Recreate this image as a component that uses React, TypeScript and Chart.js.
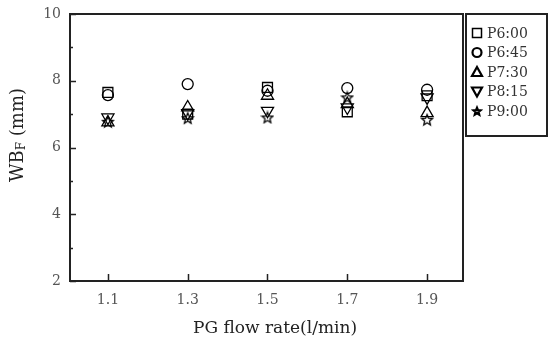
import React, { useEffect, useRef } from "react";
import { Chart, registerables } from "chart.js";

Chart.register(...registerables);

const flowRates = [1.1, 1.3, 1.5, 1.7, 1.9];
const xTickValues = [1.1, 1.3, 1.5, 1.7, 1.9];
const yTickValues = [2, 3, 4, 5, 6, 7, 8, 9, 10];
const seriesNames = ["P6:00", "P6:45", "P7:30", "P8:15", "P9:00"];
const p600 = [7.65, 7.0, 7.8, 7.07, 7.55];
const p645 = [7.57, 7.9, 7.7, 7.78, 7.73];
const p730 = [6.75, 7.2, 7.55, 7.3, 7.03];
const p815 = [6.9, 7.03, 7.1, 7.2, 7.5];
const p900 = [6.77, 6.88, 6.9, 7.5, 6.83];

const FONT = "'DejaVu Serif', 'Liberation Serif', serif";
const INK = "#222";

function makeStar(size: number, lw: number): HTMLCanvasElement {
  const c = document.createElement("canvas");
  c.width = size;
  c.height = size;
  const ctx = c.getContext("2d")!;
  const cx = size / 2, cy = size / 2 + 0.5;
  const R = size / 2 - lw, r = R * 0.45;
  ctx.beginPath();
  for (let i = 0; i < 10; i++) {
    const a = -Math.PI / 2 + (i * Math.PI) / 5;
    const rr = i % 2 === 0 ? R : r;
    const px = cx + rr * Math.cos(a), py = cy + rr * Math.sin(a);
    if (i === 0) ctx.moveTo(px, py); else ctx.lineTo(px, py);
  }
  ctx.closePath();
  ctx.strokeStyle = "#000";
  ctx.lineWidth = lw;
  ctx.stroke();
  return c;
}

export default function App() {
  const ref = useRef<HTMLCanvasElement | null>(null);

  useEffect(() => {
    document.body.style.margin = "0";
    const star = makeStar(14, 1.3);
    const legendStar = makeStar(12, 2.2);
    const mk = (data: number[]) => data.map((v, i) => ({ x: flowRates[i], y: v }));

    const styles: any[] = [
      { pointStyle: "rect", pointRadius: 7, pointRotation: 0 },
      { pointStyle: "circle", pointRadius: 5.5, pointRotation: 0 },
      { pointStyle: "triangle", pointRadius: 7, pointRotation: 0 },
      { pointStyle: "triangle", pointRadius: 7, pointRotation: 180 },
      { pointStyle: star, pointRadius: 7, pointRotation: 0 },
    ];
    const all = [p600, p645, p730, p815, p900];

    const framePlugin = {
      id: "frame",
      afterDraw(chart: any) {
        const ctx = chart.ctx;
        const { left, right, top, bottom } = chart.chartArea;
        const xs = chart.scales.x, ys = chart.scales.y;
        ctx.save();
        ctx.strokeStyle = INK;
        ctx.lineWidth = 2;
        ctx.strokeRect(left, top, right - left, bottom - top);
        ctx.lineWidth = 1.5;
        ctx.beginPath();
        xTickValues.forEach((v) => {
          const px = Math.round(xs.getPixelForValue(v)) + 0.5;
          ctx.moveTo(px, bottom);
          ctx.lineTo(px, bottom - 7);
        });
        yTickValues.forEach((v) => {
          const py = Math.round(ys.getPixelForValue(v)) + 0.5;
          const len = v % 2 === 0 ? 6 : 3;
          ctx.moveTo(left, py);
          ctx.lineTo(left + len, py);
        });
        ctx.stroke();

        // axis titles
        ctx.fillStyle = INK;
        ctx.font = `17px ${FONT}`;
        ctx.textAlign = "center";
        ctx.textBaseline = "middle";
        ctx.fillText("PG flow rate(l/min)", 275, 329);

        ctx.save();
        ctx.translate(18, 135);
        ctx.rotate(-Math.PI / 2);
        ctx.textAlign = "left";
        const p1 = "WB", p2 = "F", p3 = " (mm)";
        ctx.font = `18px ${FONT}`;
        const w1 = ctx.measureText(p1).width;
        const w3 = ctx.measureText(p3).width;
        ctx.font = `12px ${FONT}`;
        const w2 = ctx.measureText(p2).width;
        const total = w1 + w2 + w3;
        let x0 = -total / 2;
        ctx.font = `18px ${FONT}`;
        ctx.fillText(p1, x0, 0);
        x0 += w1;
        ctx.font = `12px ${FONT}`;
        ctx.fillText(p2, x0, 4);
        x0 += w2;
        ctx.font = `18px ${FONT}`;
        ctx.fillText(p3, x0, 0);
        ctx.restore();

        // legend
        const lx = 466, ly = 14, lw = 81, lh = 122;
        ctx.lineWidth = 2;
        ctx.strokeStyle = INK;
        ctx.strokeRect(lx, ly, lw, lh);
        ctx.font = `14px ${FONT}`;
        ctx.textAlign = "left";
        ctx.textBaseline = "middle";
        seriesNames.forEach((name, i) => {
          const cy = 33 + i * 19.5;
          const cx = 477;
          ctx.strokeStyle = "#000";
          ctx.lineWidth = i === 0 ? 1.5 : 2.2;
          ctx.beginPath();
          if (i === 0) {
            ctx.rect(cx - 4.5, cy - 4.5, 9, 9);
          } else if (i === 1) {
            ctx.arc(cx, cy, 4.5, 0, Math.PI * 2);
          } else if (i === 2) {
            ctx.moveTo(cx, cy - 5);
            ctx.lineTo(cx + 5, cy + 4);
            ctx.lineTo(cx - 5, cy + 4);
            ctx.closePath();
          } else if (i === 3) {
            ctx.moveTo(cx, cy + 5);
            ctx.lineTo(cx + 5, cy - 4);
            ctx.lineTo(cx - 5, cy - 4);
            ctx.closePath();
          }
          ctx.stroke();
          if (i === 4) ctx.drawImage(legendStar, cx - 6, cy - 6);
          ctx.fillStyle = "#333";
          ctx.fillText(name, 487, cy + 1);
        });
        ctx.restore();
      },
    };

    const chart = new Chart(ref.current!, {
      type: "scatter",
      data: {
        datasets: all.map((d, i) => ({
          label: seriesNames[i],
          data: mk(d),
          borderColor: "#000",
          backgroundColor: "rgba(0,0,0,0)",
          borderWidth: 1.3,
          ...styles[i],
        })),
      },
      options: {
        animation: false,
        responsive: false,
        devicePixelRatio: 1,
        layout: { padding: { left: 0, top: 14, right: 86, bottom: 0 } },
        plugins: { legend: { display: false }, tooltip: { enabled: false } },
        scales: {
          x: {
            type: "linear",
            min: 1.005,
            max: 1.99,
            afterBuildTicks: (s: any) => {
              s.ticks = xTickValues.map((v) => ({ value: v }));
            },
            afterFit: (s: any) => {
              s.height = 60;
              s.paddingLeft = 0;
              s.paddingRight = 0;
            },
            grid: { display: false, drawTicks: false },
            border: { display: false },
            ticks: {
              padding: 11,
              color: "#555",
              font: { family: FONT, size: 14 },
              callback: (v: any) => Number(v).toFixed(1),
            },
          },
          y: {
            min: 2,
            max: 10,
            afterBuildTicks: (s: any) => {
              s.ticks = yTickValues.map((v) => ({ value: v }));
            },
            afterFit: (s: any) => {
              s.width = 70;
              s.paddingTop = 0;
              s.paddingBottom = 0;
            },
            grid: { display: false, drawTicks: false },
            border: { display: false },
            ticks: {
              padding: 9,
              color: "#555",
              font: { family: FONT, size: 14 },
              callback: (v: any) => (Number(v) % 2 === 0 ? String(v) : ""),
            },
          },
        },
      },
      plugins: [framePlugin],
    });
    return () => chart.destroy();
  }, []);

  return (
    <div style={{ width: 549, height: 341, background: "#fff" }}>
      <canvas ref={ref} width={549} height={341} style={{ display: "block" }} />
    </div>
  );
}
